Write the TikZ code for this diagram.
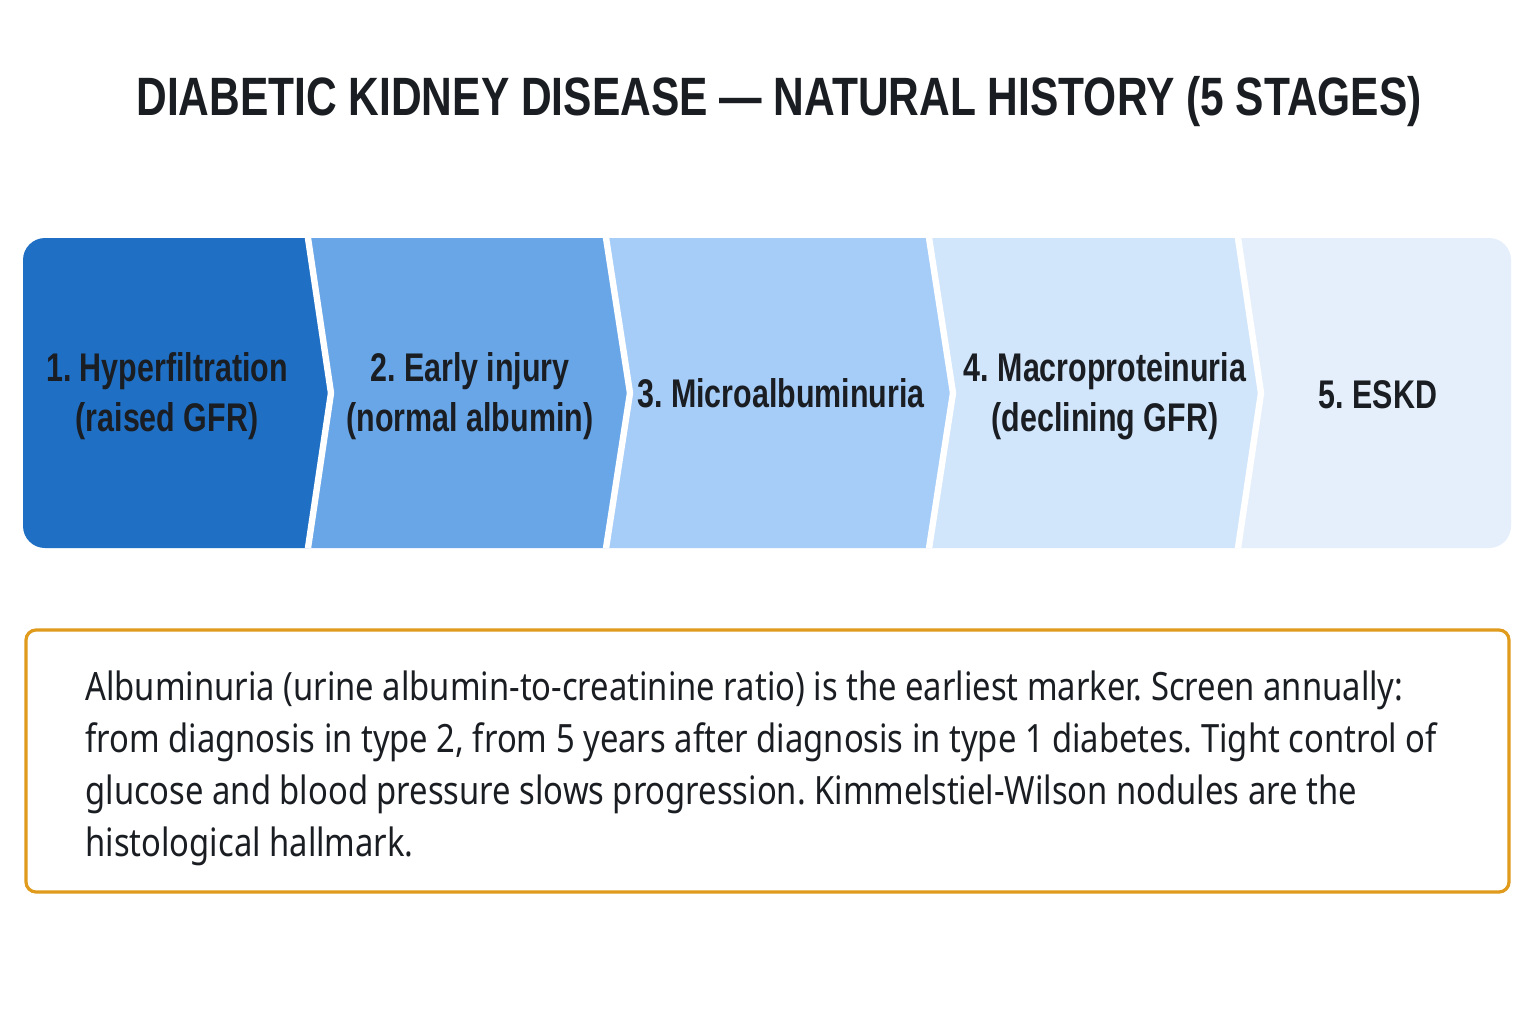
\documentclass[tikz,border=0pt]{standalone}
\usepackage{fontspec}
\setmainfont{Noto Sans}
\newfontfamily\condfont[FakeStretch=0.76]{Liberation Sans}
\newfontfamily\titlefont[FakeStretch=0.787]{Liberation Sans}
\newfontfamily\notefont[FakeStretch=0.84]{Noto Sans}
\usepackage{tikz}
\usetikzlibrary{positioning}
\frenchspacing
\definecolor{ink}{RGB}{26,29,34}
\definecolor{stageA}{RGB}{31,111,197}
\definecolor{stageB}{RGB}{104,166,232}
\definecolor{stageC}{RGB}{166,204,248}
\definecolor{stageD}{RGB}{209,229,251}
\definecolor{stageE}{RGB}{229,239,252}
\definecolor{noteline}{RGB}{224,155,28}
\tikzstyle{heading} = [font=\titlefont\bfseries\fontsize{27}{30}\selectfont, text=ink, inner sep=0pt]
\tikzstyle{stagelabel} = [font=\condfont\bfseries\fontsize{20}{25}\selectfont, align=center, text=ink, inner sep=0pt]
\tikzstyle{gap} = [draw=white, line width=3.2pt]
\tikzstyle{notebox} = [rectangle, rounded corners=5pt, draw=noteline, line width=1.6pt, minimum width=741.5pt, minimum height=131pt]
\tikzstyle{notetext} = [align=left, text=ink, inner sep=0pt, font=\notefont\fontsize{19.5}{26}\selectfont]

\begin{document}
\begin{tikzpicture}[x=0.5pt, y=-0.5pt]
\useasboundingbox (0,0) rectangle (1536,1024);
\fill[white] (0,0) rectangle (1536,1024);

% Title
\node (title) [heading, anchor=base] at (779,115) {DIABETIC KIDNEY DISEASE — NATURAL HISTORY (5 STAGES)};

% Stage band
\begin{scope}
\clip[rounded corners=11pt] (23,238) rectangle (1511,548);
\fill[stageA] (0,238) -- (308,238) -- (331,393) -- (308,548) -- (0,548) -- cycle;
\fill[stageB] (308,238) -- (606,238) -- (630,393) -- (606,548) -- (308,548) -- (331,393) -- cycle;
\fill[stageC] (606,238) -- (929,238) -- (953,393) -- (929,548) -- (606,548) -- (630,393) -- cycle;
\fill[stageD] (929,238) -- (1238,238) -- (1261,393) -- (1238,548) -- (929,548) -- (953,393) -- cycle;
\fill[stageE] (1238,238) -- (1540,238) -- (1540,548) -- (1238,548) -- (1261,393) -- cycle;
\draw[gap] (306.8,230) -- (331,393) -- (306.8,556);
\draw[gap] (604.8,230) -- (630,393) -- (604.8,556);
\draw[gap] (927.8,230) -- (953,393) -- (927.8,556);
\draw[gap] (1236.8,230) -- (1261,393) -- (1236.8,556);
\end{scope}

% Stage labels
\node (stage1) [stagelabel] at (167,396) {1. Hyperfiltration\\(raised GFR)};
\node (stage2) [stagelabel] at (470,396) {2. Early injury\\(normal albumin)};
\node (stage3) [stagelabel] at (781,393) {3. Microalbuminuria};
\node (stage4) [stagelabel] at (1105,396) {4. Macroproteinuria\\(declining GFR)};
\node (stage5) [stagelabel] at (1378,395) {5. ESKD};

% Screening note
\node (notebox) [notebox] at (767.5,761) {};
\node (note) [notetext, anchor=west] at (85,768) {Albuminuria (urine albumin-to-creatinine ratio) is the earliest marker. Screen annually:\\
from diagnosis in type 2, from 5 years after diagnosis in type 1 diabetes. Tight control of\\
glucose and blood pressure slows progression. Kimmelstiel-Wilson nodules are the\\
histological hallmark.};

\end{tikzpicture}
\end{document}
